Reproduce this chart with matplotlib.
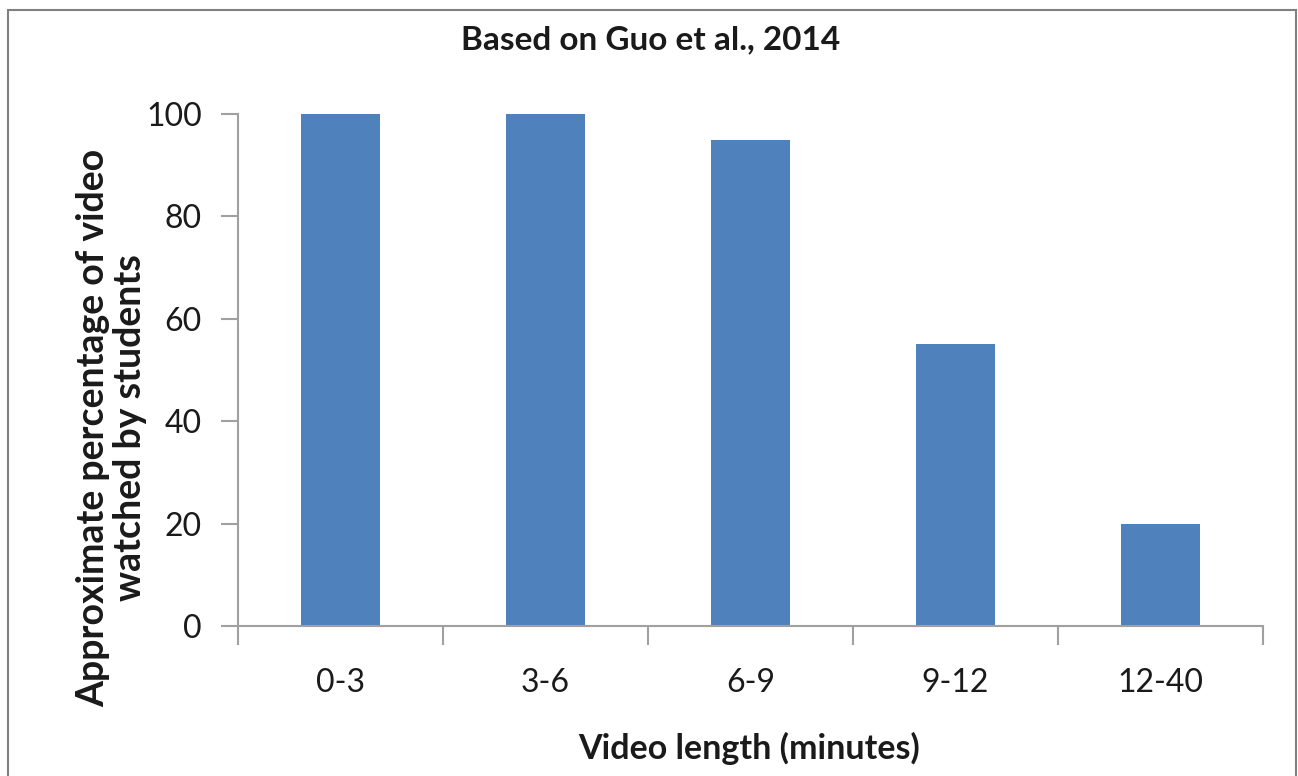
import matplotlib
matplotlib.use("Agg")
import matplotlib.pyplot as plt
from matplotlib.patches import Rectangle

categories = ["0-3", "3-6", "6-9", "9-12", "12-40"]
watched_pct = [100, 100, 95, 55, 20]
y_ticks = [0, 20, 40, 60, 80, 100]

plt.rcParams["font.family"] = ["Lato", "DejaVu Sans"]

W, H = 1298, 776
fig = plt.figure(figsize=(W / 100, H / 100), dpi=100)

# outer frame
fig.patches.append(Rectangle((8 / W, -0.01), (1296 - 8) / W, 1.01 - 10 / H,
                             transform=fig.transFigure, fill=False,
                             edgecolor="#808080", linewidth=1.5))

ax = fig.add_axes([238 / W, 1 - 626 / H, (1263 - 238) / W, (626 - 114) / H])
x = range(len(categories))
ax.bar(x, watched_pct, width=0.39, color="#4F81BD")

ax.set_xlim(-0.5, len(categories) - 0.5)
ax.set_ylim(0, 100)
ax.set_yticks(y_ticks)
ax.set_xticks(list(x))
ax.set_xticklabels(categories)
# boundary ticks between categories
ax.set_xticks([i - 0.5 for i in range(len(categories) + 1)], minor=True)
ax.tick_params(axis="x", which="major", length=0, pad=30, labelsize=23, labelcolor="#1a1a1a")
ax.tick_params(axis="x", which="minor", length=14, width=1.5, color="#A0A0A0", direction="out")
ax.tick_params(axis="y", length=12, width=1.5, color="#A0A0A0", direction="out",
               pad=14, labelsize=23, labelcolor="#1a1a1a")

for side in ("top", "right"):
    ax.spines[side].set_visible(False)
for side in ("left", "bottom"):
    ax.spines[side].set_color("#A0A0A0")
    ax.spines[side].set_linewidth(1.5)

fig.text(651 / W, 1 - 40 / H, "Based on Guo et al., 2014", ha="center", va="center",
         fontsize=24, fontweight="bold", color="#1a1a1a")
fig.text(749 / W, 1 - 748 / H, "Video length (minutes)", ha="center", va="center",
         fontsize=24.5, fontweight="bold", color="#1a1a1a")
fig.text(112 / W, 1 - 428 / H, "Approximate percentage of video\nwatched by students",
         ha="center", va="center", rotation=90, fontsize=27, fontweight="bold",
         color="#1a1a1a", linespacing=1.1)

fig.savefig("out.png", dpi=100)
